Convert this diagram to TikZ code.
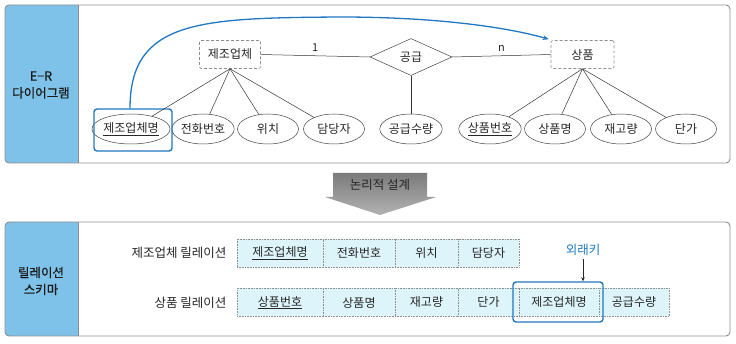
\documentclass[tikz,border=0pt]{standalone}
\usepackage{fontspec}
\setmainfont{Noto Sans CJK KR}
\newfontfamily\medfont[FakeBold=0.7]{Noto Sans CJK KR}
\usetikzlibrary{shapes.geometric,arrows.meta}
\definecolor{panelblue}{HTML}{7EC2E9}
\definecolor{linkblue}{HTML}{1F78C1}
\definecolor{cellfill}{HTML}{DDF4FA}
\definecolor{framegray}{HTML}{8E8E8E}
\definecolor{txt}{HTML}{262626}
\begin{document}
\begin{tikzpicture}[x=1pt,y=-1pt,
  font=\fontsize{12}{14}\selectfont, text=txt,
  panelframe/.style={draw=framegray, line width=0.9pt, rounded corners=4pt},
  entity/.style={draw=framegray, densely dashed, line width=0.6pt, rounded corners=1.5pt, minimum width=61pt, minimum height=28pt, inner sep=0pt, fill=white},
  attr/.style={ellipse, draw=black!75, line width=0.5pt, minimum width=61pt, minimum height=30pt, inner sep=0pt},
  relship/.style={diamond, draw=black!75, line width=0.5pt, aspect=2.2, minimum width=82pt, minimum height=37pt, inner sep=0pt},
  conn/.style={draw=black!80, line width=0.5pt},
  cell/.style={draw=framegray, densely dotted, line width=0.6pt, fill=cellfill, minimum height=28pt, inner sep=0pt},
  sidelabel/.style={align=center, font=\medfont\fontsize{12.5}{17}\selectfont, text=black!90},
  hilite/.style={draw=linkblue, line width=1.4pt, rounded corners=3pt, fill=none}
]
\useasboundingbox (0,0) rectangle (736,344);

% ---------- top panel ----------
\fill[panelblue] (78,5) [rounded corners=4pt] -- (5,5) -- (5,163) [sharp corners] -- (78,163) -- cycle;
\draw[panelframe] (5,5) rectangle (730,163);
\draw[framegray, line width=0.6pt] (78,5) -- (78,163);
\node[sidelabel] (erlabel) at (41,85) {E−R\\다이어그램};

% entities and relationship
\node[entity] (maker) at (230,54.5) {제조업체};
\node[entity, minimum width=63pt] (prod) at (582.5,54.5) {상품};
\node[relship] (supply) at (411,57) {공급};

% attributes
\node[attr, minimum width=69pt] (a1) at (131,129) {\underline{제조업체명}};
\node[attr] (a2) at (203,129) {전화번호};
\node[attr] (a3) at (268,129) {위치};
\node[attr] (a4) at (334,129) {담당자};
\node[attr] (a5) at (411,129) {공급수량};
\node[attr] (a6) at (490,129) {\underline{상품번호}};
\node[attr] (a7) at (555,129) {상품명};
\node[attr] (a8) at (621,129) {재고량};
\node[attr] (a9) at (686,129) {단가};

\node[hilite, minimum width=78pt, minimum height=42pt] (pkbox) at (133,130) {};

% connectors
\draw[conn] (maker.east) -- node[above=1pt, font=\fontsize{11}{12}\selectfont] {1} (supply.west);
\draw[conn] (supply.east) -- node[above=1pt, font=\fontsize{11}{12}\selectfont] {n} (prod.west);
\draw[conn] (supply.south) -- (a5.north);
\foreach \a in {a1,a2,a3,a4} \draw[conn] (maker.south) -- (\a);
\foreach \a in {a6,a7,a8,a9} \draw[conn] (prod.south) -- (\a);

\draw[linkblue, line width=1.3pt, -{Stealth[length=6pt,width=5pt]}]
  ([xshift=-3pt]pkbox.north) .. controls (130,20) and (200,18) .. (340,17)
  .. controls (440,17) and (510,28) .. ([xshift=-2pt,yshift=1pt]prod.north west);

% ---------- transition arrow ----------
\shade[top color=black!52, bottom color=black!30]
  (333,173) -- (427,173) -- (427,197) -- (436,197) -- (380,215) -- (325,197) -- (333,197) -- cycle;
\node[font=\fontsize{12.5}{14}\selectfont, text=black!85] (design) at (380,185) {논리적 설계};

% ---------- bottom panel ----------
\fill[panelblue] (78,222) [rounded corners=4pt] -- (5,222) -- (5,336) [sharp corners] -- (78,336) -- cycle;
\draw[panelframe] (5,222) rectangle (730,336);
\draw[framegray, line width=0.6pt] (78,222) -- (78,336);
\node[sidelabel] (rslabel) at (41,281) {릴레이션\\스키마};

\node[anchor=east, font=\fontsize{12.5}{14}\selectfont] (r1) at (230,253) {제조업체 릴레이션};
\node[anchor=east, font=\fontsize{12.5}{14}\selectfont] (r2) at (230,302.5) {상품 릴레이션};

\node[cell, minimum width=86pt] (c11) at (280,253) {\underline{제조업체명}};
\node[cell, minimum width=72pt] (c12) at (359,253) {전화번호};
\node[cell, minimum width=63pt] (c13) at (426.5,253) {위치};
\node[cell, minimum width=61pt] (c14) at (488.5,253) {담당자};

\node[cell, minimum width=86pt] (c21) at (280,302.5) {\underline{상품번호}};
\node[cell, minimum width=72pt] (c22) at (359,302.5) {상품명};
\node[cell, minimum width=63pt] (c23) at (426.5,302.5) {재고량};
\node[cell, minimum width=61pt] (c24) at (488.5,302.5) {단가};
\node[cell, minimum width=80pt] (c25) at (559,302.5) {제조업체명};
\node[cell, minimum width=70pt] (c26) at (634,302.5) {공급수량};

\node[hilite, minimum width=90pt, minimum height=40pt] (fkbox) at (558,302) {};
\node[text=linkblue, font=\fontsize{12.5}{14}\selectfont] (fk) at (583,250) {외래키};
\draw[black!85, line width=0.6pt, -{Stealth[length=4pt,width=3.5pt]}] (fk.south) -- (fk.south |- fkbox.north);
\end{tikzpicture}
\end{document}
